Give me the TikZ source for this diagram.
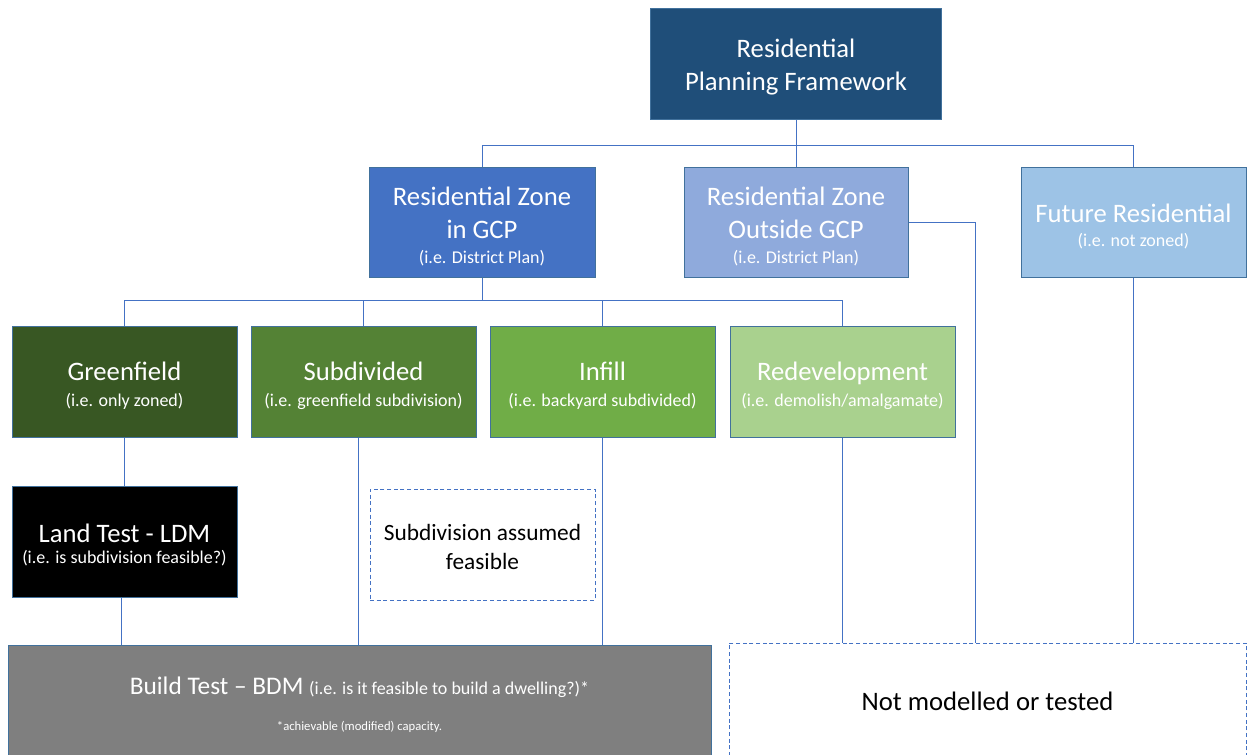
\documentclass[tikz,border=0pt]{standalone}
\usepackage{fontspec}
\setmainfont{Carlito}
\definecolor{navy}{HTML}{1F4E79}
\definecolor{zonein}{HTML}{4472C4}
\definecolor{zoneout}{HTML}{8FAADC}
\definecolor{zonefut}{HTML}{9DC3E6}
\definecolor{gfield}{HTML}{385723}
\definecolor{gsub}{HTML}{548235}
\definecolor{ginfill}{HTML}{70AD47}
\definecolor{gredev}{HTML}{A9D18E}
\definecolor{buildgrey}{HTML}{7F7F7F}
\definecolor{boxedge}{HTML}{41719C}
\definecolor{linkblue}{HTML}{4472C4}
\newcommand\bigtext{\fontsize{20}{24.75}\selectfont}
\newcommand\smalltext{\fontsize{13.5}{16}\selectfont}
\newcommand\tinytext{\fontsize{9.5}{11}\selectfont}
% invisible strut that sets the height of a first line
\newcommand\toppad[1]{\rule{0pt}{#1}}
\begin{document}
\begin{tikzpicture}[x=0.75pt,y=-0.75pt,
  box/.style={draw=boxedge, line width=0.75pt, text=white, align=center,
    inner sep=0pt, font=\bigtext},
  tier/.style={box, minimum width=168.75pt, minimum height=83.25pt},
  ghost/.style={draw=linkblue, dash pattern=on 3pt off 2pt, line width=0.75pt,
    align=center, inner sep=0pt, text=black},
  wire/.style={draw=linkblue, line width=0.75pt}]
\useasboundingbox (0,0) rectangle (1247,754);

% top level
\node[box, fill=navy, minimum width=218.25pt, minimum height=83.25pt] (top)
  at (796,63.5) {\toppad{18.9pt}Residential\\Planning Framework};

% zoning tier
\node[tier, fill=zonein, minimum width=169.5pt, minimum height=82.5pt] (gcp)
  at (482,222) {\toppad{20.4pt}Residential Zone\\in GCP\\[-6pt]{\smalltext (i.e. District Plan)}};
\node[tier, fill=zoneout, minimum width=168pt, minimum height=82.5pt] (out)
  at (796,222) {\toppad{20.4pt}Residential Zone\\Outside GCP\\[-6pt]{\smalltext (i.e. District Plan)}};
\node[tier, fill=zonefut, minimum height=82.5pt] (fut)
  at (1133.5,222) {\toppad{21.2pt}Future Residential\\[-6.75pt]{\smalltext (i.e. not zoned)}};

% land-use tier
\node[tier, fill=gfield] (green) at (124.5,381.5)
  {\toppad{20.4pt}Greenfield\\[-5pt]{\smalltext (i.e. only zoned)}};
\node[tier, fill=gsub] (sub) at (363.5,381.5)
  {\toppad{20.4pt}Subdivided\\[-5pt]{\smalltext (i.e. greenfield subdivision)}};
\node[tier, fill=ginfill] (inf) at (602.5,381.5)
  {\toppad{20.4pt}Infill\\[-5pt]{\smalltext (i.e. backyard subdivided)}};
\node[tier, fill=gredev] (red) at (842.5,381.5)
  {\toppad{20.4pt}Redevelopment\\[-5pt]{\smalltext (i.e. demolish/amalgamate)}};

% tests
\node[tier, fill=black] (land) at (124.5,541.5)
  {\toppad{18.9pt}Land Test - LDM\\[-8.5pt]{\smalltext (i.e. is subdivision feasible?)}};
\node[ghost, minimum width=168.75pt, minimum height=83.25pt, font=\fontsize{17.5}{21.75}\selectfont]
  (assumed) at (482.5,544.5) {\toppad{15.6pt}Subdivision assumed\\feasible};
\node[box, fill=buildgrey, minimum width=527.25pt, minimum height=93pt,
  font=\fontsize{19}{24.75}\selectfont] (build)
  at (359.5,707) {Build Test -- BDM {\smalltext (i.e. is it feasible to build a dwelling?)*}\\[2pt]{\tinytext\rule[-5pt]{0pt}{5pt}*achievable (modified) capacity.}};
\node[ghost, minimum width=387.75pt, minimum height=87.75pt, font=\bigtext]
  (notm) at (987.5,701.5) {Not modelled or tested};

% connectors
\coordinate (busA) at (0,145);
\coordinate (busB) at (0,300);
\coordinate (outdrop) at (975,0);
\draw[wire] (top.south) -- (top.south |- busA);
\draw[wire] (gcp.north) |- (fut.north |- busA) -- (fut.north);
\draw[wire] (out.north) -- (out.north |- busA);
\draw[wire] (gcp.south) -- (gcp.south |- busB);
\draw[wire] (green.north) |- (red.north |- busB) -- (red.north);
\draw[wire] (sub.north) -- (sub.north |- busB);
\draw[wire] (inf.north) -- (inf.north |- busB);
\draw[wire] (green.south) -- (land.north);
\draw[wire] ([xshift=-2.6pt]land.south) -- ([xshift=-2.6pt]land.south |- build.north);
\draw[wire] ([xshift=-3.4pt]sub.south) -- ([xshift=-3.4pt]sub.south |- build.north);
\draw[wire] (inf.south) -- (inf.south |- build.north);
\draw[wire] (red.south) -- (red.south |- notm.north);
\draw[wire] (out.east) -| (outdrop |- notm.north);
\draw[wire] (fut.south) -- (fut.south |- notm.north);
\end{tikzpicture}
\end{document}
